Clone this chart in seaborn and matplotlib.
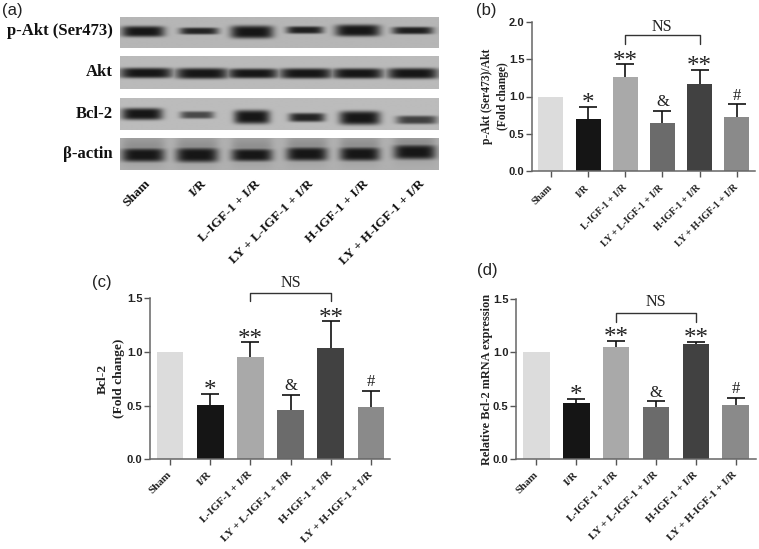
import numpy as np
import pandas as pd
import matplotlib
matplotlib.use("Agg")
import matplotlib.pyplot as plt
import seaborn as sns

groups = ["Sham", "I/R", "L-IGF-1 + I/R", "LY + L-IGF-1 + I/R", "H-IGF-1 + I/R", "LY + H-IGF-1 + I/R"]
bar_colors = ["#dcdcdc", "#151515", "#a9a9a9", "#6b6b6b", "#414141", "#8a8a8a"]

akt_values = [1.0, 0.70, 1.26, 0.64, 1.17, 0.73]
akt_tops = [1.0, 0.865, 1.43, 0.81, 1.355, 0.895]
bcl_values = [1.0, 0.505, 0.95, 0.455, 1.04, 0.49]
bcl_tops = [1.0, 0.61, 1.09, 0.60, 1.285, 0.64]
mrna_values = [1.0, 0.53, 1.045, 0.49, 1.08, 0.51]
mrna_tops = [1.0, 0.565, 1.105, 0.54, 1.095, 0.575]
marks = ["", "*", "**", "&", "**", "#"]

blot_names = ["p-Akt (Ser473)", "Akt", "Bcl-2", "β-actin"]
# Band darkness (0-1) and band thickness (px) per lane, read from the blot
blot_strength = [
    [1.0, 0.92, 1.0, 0.95, 1.0, 0.95],
    [1.0, 1.0, 1.0, 1.0, 1.0, 1.0],
    [1.0, 0.70, 1.0, 0.92, 1.0, 0.75],
    [1.0, 1.0, 1.0, 1.0, 1.0, 1.0],
]
blot_thick = [
    [10, 6, 12, 6.5, 11, 6.5],
    [9.5, 10, 9, 9.5, 9.5, 10],
    [11, 6.5, 13, 8, 13, 7.5],
    [13, 14, 12, 13, 13, 14],
]
blot_width = [
    [43, 39, 43, 37, 45, 41],
    [53, 53, 51, 53, 51, 51],
    [41, 34, 36, 36, 41, 41],
    [43, 42, 41, 41, 40, 42],
]
blot_center = [
    [143, 199, 252, 305, 358, 413],
    [146, 202, 253, 306, 358, 413],
    [142, 197, 252, 307, 360, 417],
    [143, 197, 252, 307, 360, 415],
]
blot_y = [
    [31.5, 31, 32, 30, 30.5, 30.5],
    [73, 73.5, 73.5, 73.5, 73.5, 73.5],
    [114, 115, 117, 117.5, 118, 120],
    [155, 155, 155, 154, 154, 152],
]
blot_rows = [(17, 48), (56, 89), (98, 130), (138, 170)]
blot_bg = [182, 186, 188, 176]
blot_halo = [0.0, 0.0, 0.0, 0.55]

W, H = 759, 549
sns.set_theme(style="ticks", rc={"axes.facecolor": "white"})
plt.rcParams["font.family"] = ["Liberation Serif", "DejaVu Serif"]
fig = plt.figure(figsize=(W / 100, H / 100), dpi=100, facecolor="white")


def px_axes(left, top, right, bottom, zorder=1):
    return fig.add_axes([left / W, 1 - bottom / H, (right - left) / W, (bottom - top) / H], zorder=zorder)


over = px_axes(0, 0, W, H, zorder=0)
over.set_xlim(0, W)
over.set_ylim(H, 0)
over.axis("off")

# ---- panel (a) ----
bx0, bx1 = 120, 439
for r, (y0, y1) in enumerate(blot_rows):
    xs = np.arange(bx0, bx1 + 0.5, 0.5)
    ys = np.arange(y0, y1 + 0.5, 0.5)
    X, Y = np.meshgrid(xs, ys)
    dark = np.zeros_like(X)
    for c, w, t, s, yc in zip(blot_center[r], blot_width[r], blot_thick[r], blot_strength[r], blot_y[r]):
        ex = np.exp(-np.abs((X - c) / (w / 2)) ** 5)
        ey = np.exp(-np.abs((Y - yc) / (t / 2 + 0.5)) ** 4)
        band = s * ex * ey
        if blot_halo[r] > 0:
            halo = 0.22 * np.exp(-np.abs((X - c) / (w / 2)) ** 6) * np.exp(-np.abs((Y - (yc - 6)) / 14) ** 2)
            band = np.maximum(band, halo)
        dark = np.maximum(dark, band)
    img = blot_bg[r] * (1 - dark) + 22 * dark
    over.imshow(img, cmap="gray", vmin=0, vmax=255, extent=(bx0, bx1, y1, y0), interpolation="bilinear", aspect="auto")
    over.text(113, blot_y[r][0] - 0.5, blot_names[r], ha="right", va="center", fontsize=12, fontweight="bold",
              color="#111111")
over.set_xlim(0, W)
over.set_ylim(H, 0)

label_ends = [148, 205, 259, 312, 367, 423]
for lab, xe in zip(groups, label_ends):
    over.text(xe, 182, lab, rotation=45, rotation_mode="anchor", ha="right", va="center", fontsize=9.6,
              fontweight="bold", color="#111111")

for lab, x, y in [("(a)", 2, 10), ("(b)", 476, 10), ("(c)", 92, 283), ("(d)", 477, 270)]:
    over.text(x, y, lab, ha="left", va="center", fontsize=12, family=["Liberation Sans"], color="#222222")


# ---- bar panels ----
def bar_panel(rect, centre0, spacing, barw, values, tops, ymax, yticks, ylabel, ylabel_x, bracket, ns_y,
              label_size, tick_size, pad):
    left, top, right, bottom = rect
    ax = px_axes(left, top, right, bottom, zorder=2)
    ax.patch.set_alpha(0)
    df = pd.DataFrame({"group": groups, "value": values})
    sns.barplot(data=df, x="group", y="value", hue="group", order=groups, hue_order=groups, palette=bar_colors,
                width=barw / spacing, legend=False, saturation=1, ax=ax, linewidth=0, zorder=2)
    x = np.arange(len(groups))
    ax.vlines(x[1:], values[1:], tops[1:], color="#111111", lw=1.2, zorder=1)
    ax.plot(x[1:], tops[1:], ls="none", marker="_", ms=12.5, mew=1.2, color="#111111", zorder=1, clip_on=False)
    ax.set_xlim((left - centre0) / spacing, (right - centre0) / spacing)
    ax.set_ylim(0, ymax)
    ax.set_yticks(yticks)
    ax.set_yticklabels([f"{t:.1f}" for t in yticks], family=["Liberation Sans"], fontweight="bold", fontsize=8,
                       color="#222222")
    ax.set_xticks(x)
    ax.set_xticklabels(groups, rotation=45, rotation_mode="anchor", ha="right", va="center", fontsize=tick_size,
                       fontweight="bold", color="#222222")
    ax.tick_params(axis="y", length=4, width=1, color="#555555", pad=1.5)
    ax.tick_params(axis="x", length=4, width=1, color="#555555", pad=pad)
    for side in ("top", "right"):
        ax.spines[side].set_visible(False)
    for side in ("left", "bottom"):
        ax.spines[side].set_color("#666666")
        ax.spines[side].set_linewidth(1.1)
    ax.set_xlabel("")
    ax.set_ylabel("")
    over.text(ylabel_x, (top + bottom) / 2, ylabel, rotation=90, ha="center", va="center", fontsize=label_size,
              fontweight="bold", color="#222222", linespacing=1.4)
    for i, m in enumerate(marks):
        if not m:
            continue
        if "*" in m:
            ax.annotate(m, (i, tops[i]), xytext=(0, -6), textcoords="offset points",
                        ha="center", va="bottom", fontsize=18, clip_on=False, color="#222222")
        else:
            ax.annotate(m, (i, tops[i]), xytext=(0, 0.5), textcoords="offset points", ha="center",
                        va="bottom", fontsize=12, clip_on=False, color="#222222")
    y_hi, y_lo = bracket
    ax.plot([2, 2, 4, 4], [y_lo, y_hi, y_hi, y_lo], color="#333333", lw=1, clip_on=False)
    ax.text(3, ns_y, "NS", ha="center", va="center", fontsize=11.5, clip_on=False, color="#222222")
    return ax


bar_panel((532, 22, 755, 171), 550.8, 37.2, 25, akt_values, akt_tops, 2.0, [0, 0.5, 1.0, 1.5, 2.0],
          "p-Akt (Ser473)/Akt\n(Fold change)", 495, (1.825, 1.71), 1.93, 8.4, 7.1, 7)
bar_panel((150, 298.3, 390, 459.3), 170, 40.2, 26.7, bcl_values, bcl_tops, 1.5, [0, 0.5, 1.0, 1.5],
          "Bcl-2\n(Fold change)", 111, (1.553, 1.475), 1.64, 9.7, 8.1, 6)
bar_panel((516, 298.7, 756, 459.3), 536.3, 39.9, 26.7, mrna_values, mrna_tops, 1.5, [0, 0.5, 1.0, 1.5],
          "Relative Bcl-2 mRNA expression", 487, (1.364, 1.287), 1.466, 8.8, 7.9, 6)

fig.savefig("out.png", dpi=100, facecolor="white")
